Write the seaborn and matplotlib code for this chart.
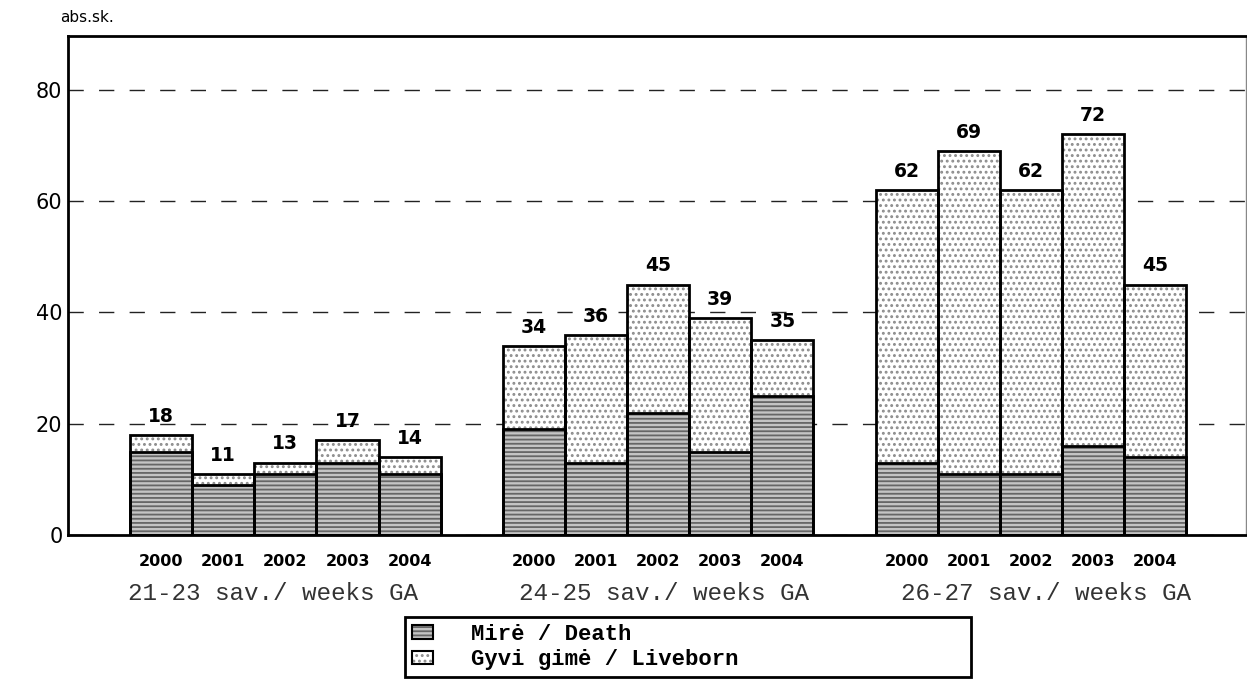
import numpy as np
import pandas as pd
import matplotlib.pyplot as plt
import seaborn as sns
from matplotlib.patches import Patch
from matplotlib.legend_handler import HandlerTuple
from matplotlib.transforms import blended_transform_factory

# duomenys
groups = ['21-23 sav./ weeks GA', '24-25 sav./ weeks GA', '26-27 sav./ weeks GA']
years = ['2000', '2001', '2002', '2003', '2004']
death = [15, 9, 11, 13, 11,
         19, 13, 22, 15, 25,
         13, 11, 11, 16, 14]
total = [18, 11, 13, 17, 14,
         34, 36, 45, 39, 35,
         62, 69, 62, 72, 45]
legend_labels = ['Mirė / Death', 'Gyvi gimė / Liveborn']

sns.set_theme(style='white')
plt.rcParams['font.family'] = ['DejaVu Sans']
plt.rcParams['text.color'] = 'black'
plt.rcParams['xtick.color'] = 'black'
plt.rcParams['ytick.color'] = 'black'

# pozicijos: 5 stulpeliai grupėje + tarpas
gap = 6
pos = [g * gap + i for g in range(len(groups)) for i in range(len(years))]
df = pd.DataFrame({'pos': pos, 'death': death, 'total': total})

live_face, live_hatch = '#ffffff', '#8c8c8c'
death_face, death_hatch = '#c4c4c4', '#666666'
plt.rcParams['hatch.linewidth'] = 1.3

fig = plt.figure(figsize=(12.47, 6.8), dpi=100)
ax = fig.add_axes([0.0545, 0.2132, 0.9445, 0.734])

# užpildas su štrichavimu
sns.barplot(data=df, x='pos', y='total', native_scale=True, width=1,
            color=live_face, saturation=1, errorbar=None, ax=ax)
for p in ax.containers[-1]:
    p.set_hatch('...')
    p.set_edgecolor(live_hatch)
    p.set_linewidth(0)
sns.barplot(data=df, x='pos', y='death', native_scale=True, width=1,
            color=death_face, saturation=1, errorbar=None, ax=ax)
for p in ax.containers[-1]:
    p.set_hatch('----')
    p.set_edgecolor(death_hatch)
    p.set_linewidth(0)

# kontūrai
sns.barplot(data=df, x='pos', y='total', native_scale=True, width=1,
            color='black', fill=False, linewidth=2, errorbar=None, ax=ax)
sns.barplot(data=df, x='pos', y='death', native_scale=True, width=1,
            color='black', fill=False, linewidth=2, errorbar=None, ax=ax)

# reikšmės virš stulpelių
for x, t in zip(pos, total):
    ax.annotate(str(t), (x, t), xytext=(0, 9.5), textcoords='offset points',
                ha='center', va='baseline', fontsize=13.5, fontweight='bold')

ax.set_xlim(-1.5, pos[-1] + 1.46)
ax.set_ylim(0, 89.7)
ax.set_yticks([0, 20, 40, 60, 80])
ax.tick_params(axis='y', length=0, pad=4, labelsize=15)
ax.set_xticks(pos, labels=years * len(groups), fontweight='bold', fontsize=11.5)
ax.tick_params(axis='x', length=0, pad=14)
ax.set_xlabel('')
ax.set_ylabel('')

ax.set_axisbelow(True)
ax.yaxis.grid(True, color='#222222', linewidth=1, linestyle=(0, (11, 11)))
ax.xaxis.grid(False)

for s in ['left', 'top', 'bottom']:
    ax.spines[s].set_color('black')
    ax.spines[s].set_linewidth(2)
ax.spines['right'].set_color('#888888')
ax.spines['right'].set_linewidth(1)

# grupių pavadinimai
trans = blended_transform_factory(ax.transData, ax.transAxes)
shifts = [-0.2, 0.1, 0.25]
for g, name in enumerate(groups):
    cx = g * gap + (len(years) - 1) / 2 + shifts[g]
    ax.text(cx, -0.117, name, transform=trans, ha='center', va='center',
            fontsize=17.5, family='Liberation Mono', color='#333333')

fig.text(60 / 1247, 1 - 17 / 680, 'abs.sk.', fontsize=11, va='center', ha='left')

# legenda
h_death = (Patch(facecolor=death_face, edgecolor=death_hatch, hatch='----', linewidth=0),
           Patch(fill=False, edgecolor='black', linewidth=1.5))
h_live = (Patch(facecolor=live_face, edgecolor=live_hatch, hatch='...', linewidth=0),
          Patch(fill=False, edgecolor='black', linewidth=1.5))
leg = fig.legend([h_death, h_live], legend_labels,
                 handler_map={tuple: HandlerTuple(ndivide=1)},
                 loc='upper left', bbox_to_anchor=(405 / 1247, 0.0, 566 / 1247, 1 - 617 / 680),
                 mode='expand', ncol=1, fancybox=False, frameon=True, framealpha=1,
                 prop={'family': 'Liberation Mono', 'weight': 'bold', 'size': 16},
                 handlelength=0.95, handleheight=0.55, handletextpad=1.7,
                 borderpad=0.3, labelspacing=0.2, borderaxespad=0)
leg.get_frame().set_edgecolor('black')
leg.get_frame().set_linewidth(2)

fig.savefig('out.png', dpi=100)
